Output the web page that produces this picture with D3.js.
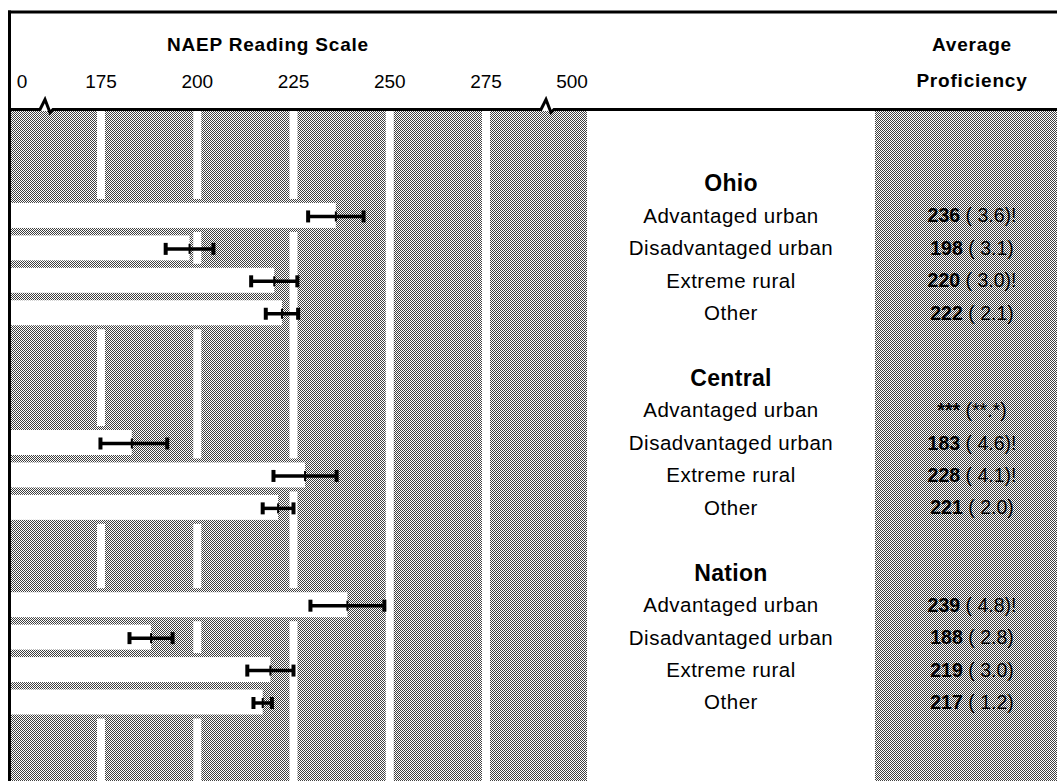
<!DOCTYPE html>
<html>
<head>
<meta charset="utf-8">
<script src="https://cdn.jsdelivr.net/npm/d3@7"></script>
<style>
  html, body { margin: 0; padding: 0; background: #fff; }
  svg { display: block; }
  text { font-family: "Liberation Sans", Arial, Helvetica, sans-serif; fill: #000; }
</style>
</head>
<body>
<svg id="chart" width="1057" height="781"></svg>
<script>
// ---------------- data ----------------
const groups = ["Ohio", "Central", "Nation"];
const categories = ["Advantaged urban", "Disadvantaged urban", "Extreme rural", "Other"];
const ohioValues = [236, 198, 220, 222];
const ohioSE = [3.6, 3.1, 3.0, 2.1];
const ohioFlag = [true, false, true, false];
const centralValues = [null, 183, 228, 221];
const centralSE = [null, 4.6, 4.1, 2.0];
const centralFlag = [false, true, true, false];
const nationValues = [239, 188, 219, 217];
const nationSE = [4.8, 2.8, 3.0, 1.2];
const nationFlag = [true, false, false, false];
const gridTicks = [175, 200, 225, 250, 275];
const axisLabels = [0, 175, 200, 225, 250, 275, 500];
const axisTitle = "NAEP Reading Scale";
const valueTitle = ["Average", "Proficiency"];

// ---------------- build rows ----------------
const seriesValues = [ohioValues, centralValues, nationValues];
const seriesSE = [ohioSE, centralSE, nationSE];
const seriesFlag = [ohioFlag, centralFlag, nationFlag];
const rows = [];
groups.forEach((g, gi) => {
  rows.push({type: "title", label: g});
  categories.forEach((c, ci) => {
    rows.push({type: "row", label: c, value: seriesValues[gi][ci], se: seriesSE[gi][ci], flag: seriesFlag[gi][ci]});
  });
  if (gi < groups.length - 1) rows.push({type: "gap"});
});
rows.forEach((r, i) => r.idx = i);

// ---------------- layout ----------------
const W = 1057, H = 781;
const frameLeft = 9.5, frameTop = 12, headerY = 109.5;
const plotLeft = 11, plotRight = 587, plotTop = 111;
const valLeft = 875;
const labelX = 731, valueX = 972;
const barH = 25, gridW = 8;

const svg = d3.select("#chart");
const defs = svg.append("defs");
const pat = defs.append("pattern")
  .attr("id", "stipple").attr("patternUnits", "userSpaceOnUse")
  .attr("width", 2).attr("height", 2);
pat.append("rect").attr("width", 2).attr("height", 2).attr("fill", "#ffffff");
[[0,0],[1,1]].forEach(([px, py]) =>
  pat.append("rect").attr("x", px).attr("y", py).attr("width", 1).attr("height", 1).attr("fill", "#404040"));

// scales (broken axis: 0 | 175..275 | 500)
const x = d3.scaleLinear().domain([0, 175, 275, 500]).range([22, 101, 486, 572]);
const y = d3.scalePoint().domain(rows.map(r => r.idx)).range([183, 702]);

// background stipple areas
svg.append("rect").attr("x", plotLeft).attr("y", plotTop)
  .attr("width", plotRight - plotLeft).attr("height", H - plotTop).attr("fill", "url(#stipple)");
svg.append("rect").attr("x", valLeft).attr("y", plotTop)
  .attr("width", W - valLeft).attr("height", H - plotTop).attr("fill", "url(#stipple)");

// white grid stripes
svg.append("g").selectAll("rect").data(gridTicks).join("rect")
  .attr("x", d => x(d) - gridW / 2).attr("y", plotTop)
  .attr("width", gridW).attr("height", H - plotTop).attr("fill", "#fff");

const dataRows = rows.filter(r => r.type === "row");
const barRows = dataRows.filter(r => r.value != null);

// stipple "shadow" around each bar (hides grid stripes in the gaps)
svg.append("g").selectAll("rect").data(barRows).join("rect")
  .attr("x", plotLeft).attr("y", d => y(d.idx) - barH / 2 - 4)
  .attr("width", d => x(d.value) - plotLeft).attr("height", barH + 8)
  .attr("fill", "url(#stipple)");

// white bars
svg.append("g").selectAll("rect").data(barRows).join("rect")
  .attr("x", plotLeft).attr("y", d => y(d.idx) - barH / 2)
  .attr("width", d => x(d.value) - plotLeft).attr("height", barH)
  .attr("fill", "#fff");

// error bars (+/- 2 SE)
const eb = svg.append("g").attr("stroke", "#000").attr("fill", "none");
barRows.forEach(d => {
  const cy = y(d.idx) + 1;
  const x0 = x(d.value - 2 * d.se), x1 = x(d.value + 2 * d.se), xm = x(d.value);
  eb.append("line").attr("x1", x0).attr("x2", x1).attr("y1", cy).attr("y2", cy).attr("stroke-width", 3.5);
  eb.append("line").attr("x1", x0).attr("x2", x0).attr("y1", cy - 6).attr("y2", cy + 6).attr("stroke-width", 4);
  eb.append("line").attr("x1", x1).attr("x2", x1).attr("y1", cy - 6).attr("y2", cy + 6).attr("stroke-width", 4);
  eb.append("line").attr("x1", xm).attr("x2", xm).attr("y1", cy - 5).attr("y2", cy + 5).attr("stroke-width", 2);
});

// frame lines
svg.append("line").attr("x1", 8).attr("x2", W).attr("y1", frameTop).attr("y2", frameTop)
  .attr("stroke", "#000").attr("stroke-width", 3);
svg.append("line").attr("x1", frameLeft).attr("x2", frameLeft).attr("y1", frameTop - 1.5).attr("y2", H)
  .attr("stroke", "#000").attr("stroke-width", 3);

// header bottom line with axis break marks
const brk = [46, 547];
const hp = d3.path();
hp.moveTo(frameLeft, headerY);
brk.forEach(b => {
  hp.lineTo(b - 6, headerY);
  hp.lineTo(b - 1, headerY - 10);
  hp.lineTo(b + 4, headerY + 3);
  hp.lineTo(b + 7, headerY);
});
hp.lineTo(W, headerY);
svg.append("path").attr("d", hp.toString()).attr("fill", "none")
  .attr("stroke", "#000").attr("stroke-width", 3).attr("stroke-linejoin", "miter");

// header texts
svg.append("text").attr("x", 268).attr("y", 51).attr("text-anchor", "middle")
  .attr("font-size", 19).attr("font-weight", "bold").attr("letter-spacing", 0.8).text(axisTitle);
svg.append("g").selectAll("text").data(axisLabels).join("text")
  .attr("x", d => x(d)).attr("y", 88).attr("text-anchor", "middle")
  .attr("font-size", 19).text(d => d);
svg.append("g").selectAll("text").data(valueTitle).join("text")
  .attr("x", valueX).attr("y", (d, i) => 51 + i * 36).attr("text-anchor", "middle")
  .attr("font-size", 19).attr("font-weight", "bold").attr("letter-spacing", 0.8).text(d => d);

// group titles
svg.append("g").selectAll("text").data(rows.filter(r => r.type === "title")).join("text")
  .attr("x", labelX).attr("y", d => y(d.idx)).attr("dy", "0.36em").attr("text-anchor", "middle")
  .attr("font-size", 23).attr("font-weight", "bold").attr("letter-spacing", 0.3).text(d => d.label);

// category labels
svg.append("g").selectAll("text").data(dataRows).join("text")
  .attr("x", labelX).attr("y", d => y(d.idx)).attr("dy", "0.36em").attr("text-anchor", "middle")
  .attr("font-size", 20.5).attr("letter-spacing", 0.5).text(d => d.label);

// value column
const vt = svg.append("g").selectAll("text").data(dataRows).join("text")
  .attr("x", valueX).attr("y", d => y(d.idx)).attr("dy", "0.36em").attr("text-anchor", "middle")
  .attr("font-size", 19.5);
vt.append("tspan").attr("font-weight", "bold").text(d => d.value == null ? "***" : d.value);
vt.append("tspan").text(d => d.value == null ? " (**.*)" : ` ( ${d3.format(".1f")(d.se)})` + (d.flag ? "!" : ""));
</script>
</body>
</html>
